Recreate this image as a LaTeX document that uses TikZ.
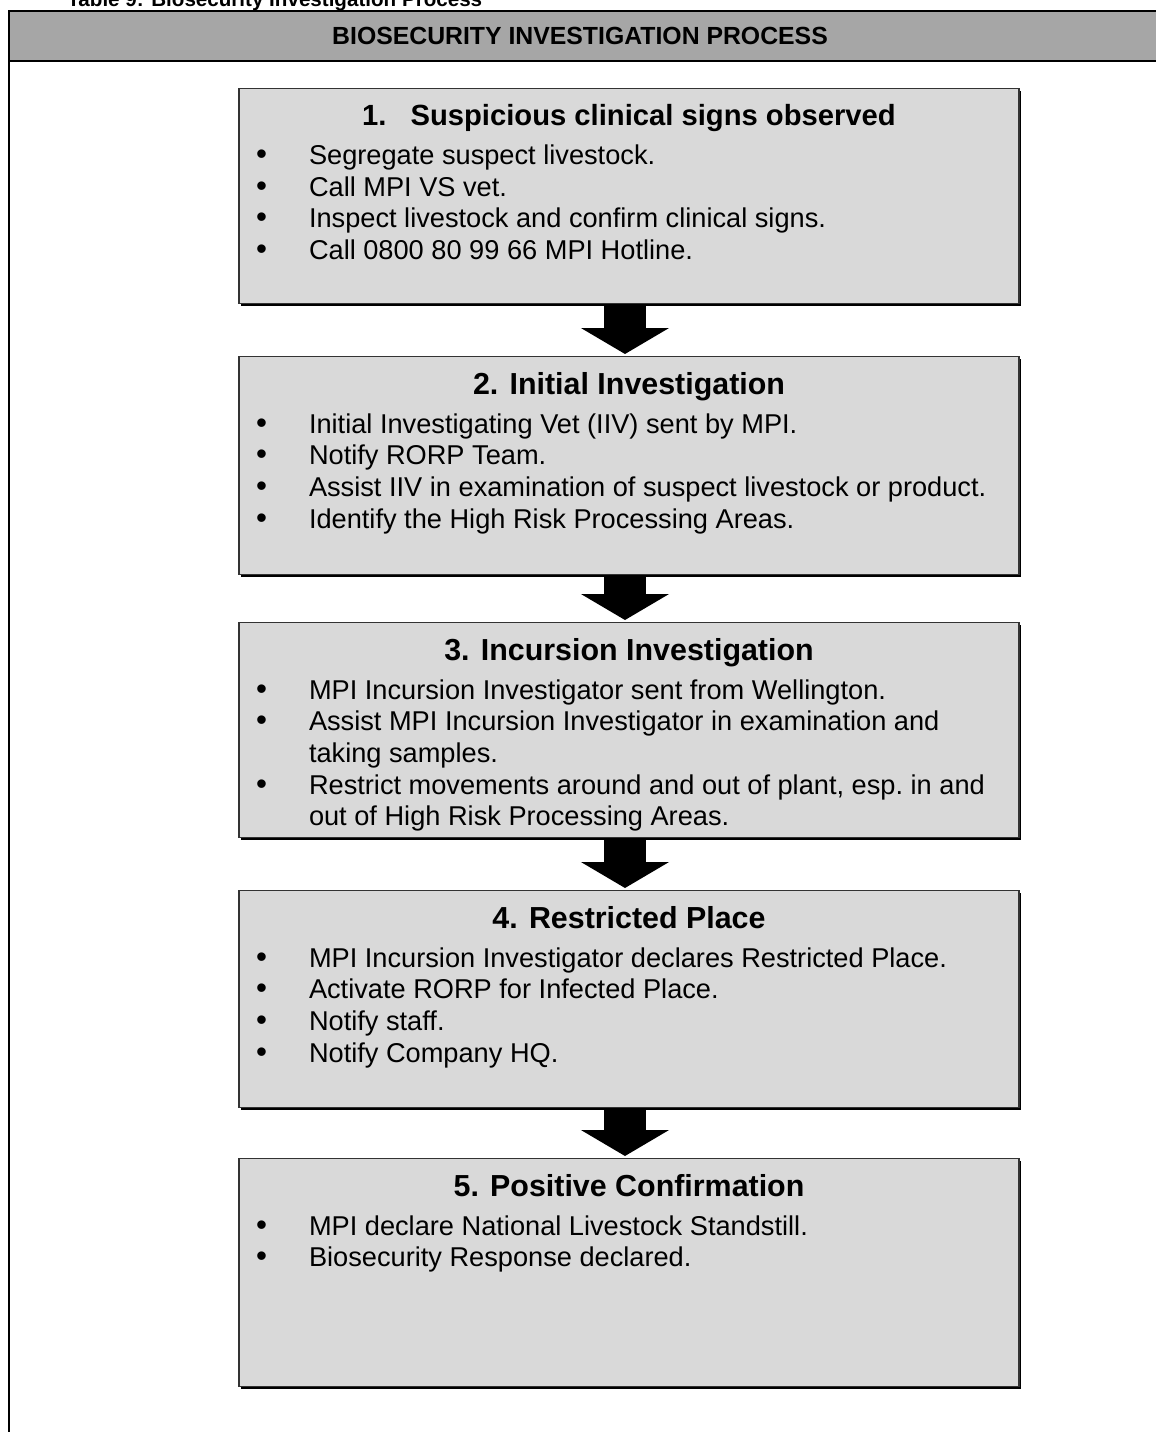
\documentclass[tikz,border=0pt]{standalone}
\usepackage{fontspec}
\setmainfont{Liberation Sans}
\usepackage{enumitem}
\usetikzlibrary{arrows.meta,shadows}

\definecolor{headgray}{HTML}{A6A6A6}
\definecolor{boxgray}{HTML}{D9D9D9}

\tikzset{
    stagebox/.style={draw=black!80, line width=0.7pt, fill=boxgray, anchor=north,
        inner xsep=6pt, inner ysep=0pt,
        drop shadow={shadow xshift=0.9pt, shadow yshift=-0.9pt, fill=black, opacity=1}},
    fatarrow/.style={line width=21pt, -{Triangle[width=43.5pt,length=13pt]}, shorten >=1pt},
}

% box content: height, title, items
\newcommand{\stagetext}[3]{%
    \parbox[t][#1][t]{378pt}{%
        \vspace*{8pt}%
        {\centering\bfseries\fontsize{15.2}{18}\selectfont #2\par}%
        \raggedright\fontsize{13.6}{15.8}\selectfont
        \begin{itemize}[label={\hspace{2.6pt}\scalebox{1.15}{\textbullet}}, leftmargin=29pt,
            labelwidth=29pt, labelsep=0pt, align=left, topsep=3.5pt, partopsep=0pt,
            itemsep=0pt, parsep=0pt]
        #3
        \end{itemize}}}

\begin{document}
\begin{tikzpicture}[x=0.5pt, y=-0.5pt]
    \useasboundingbox (0,0) rectangle (1156,1432);
    % caption, cut at the top edge
    \node[anchor=base west, inner sep=0pt, font=\bfseries\fontsize{10.3}{12}\selectfont]
        (caption) at (67,6) {Table 9: Biosecurity Investigation Process};
    % table header and left rule
    \fill[headgray] (9,11) rectangle (1160,61);
    \draw[line width=1pt] (1160,11) -- (9,11) -- (9,1432);
    \draw[line width=1pt] (9,61) -- (1160,61);
    \node[font=\bfseries\fontsize{12.4}{15}\selectfont] (header) at (580,36)
        {BIOSECURITY INVESTIGATION PROCESS};

    % stages
    \node[stagebox] (s1) at (629,88) {\stagetext{107.5pt}{\fontsize{14.6}{18}\selectfont 1.\hspace{12pt}Suspicious clinical signs observed}{%
        \item Segregate suspect livestock.
        \item Call MPI VS vet.
        \item Inspect livestock and confirm clinical signs.
        \item Call 0800 80 99 66 MPI Hotline.}};
    \node[stagebox] (s2) at (629,356) {\stagetext{109pt}{2. Initial Investigation}{%
        \item Initial Investigating Vet (IIV) sent by MPI.
        \item Notify RORP Team.
        \item Assist IIV in examination of suspect livestock or product.
        \item Identify the High Risk Processing Areas.}};
    \node[stagebox] (s3) at (629,622) {\stagetext{107.5pt}{3. Incursion Investigation}{%
        \item MPI Incursion Investigator sent from Wellington.
        \item Assist MPI Incursion Investigator in examination and\newline taking samples.
        \item Restrict movements around and out of plant, esp.\ in and\newline out of High Risk Processing Areas.}};
    \node[stagebox] (s4) at (629,890) {\stagetext{108.5pt}{4. Restricted Place}{%
        \item MPI Incursion Investigator declares Restricted Place.
        \item Activate RORP for Infected Place.
        \item Notify staff.
        \item Notify Company HQ.}};
    \node[stagebox] (s5) at (629,1158) {\stagetext{114pt}{5. Positive Confirmation}{%
        \item MPI declare National Livestock Standstill.
        \item Biosecurity Response declared.}};

    % flow arrows
    \foreach \a/\b in {s1/s2, s2/s3, s3/s4, s4/s5}
        \draw[fatarrow] ([xshift=-2pt]\a.south) -- ([xshift=-2pt]\b.north);
\end{tikzpicture}
\end{document}
